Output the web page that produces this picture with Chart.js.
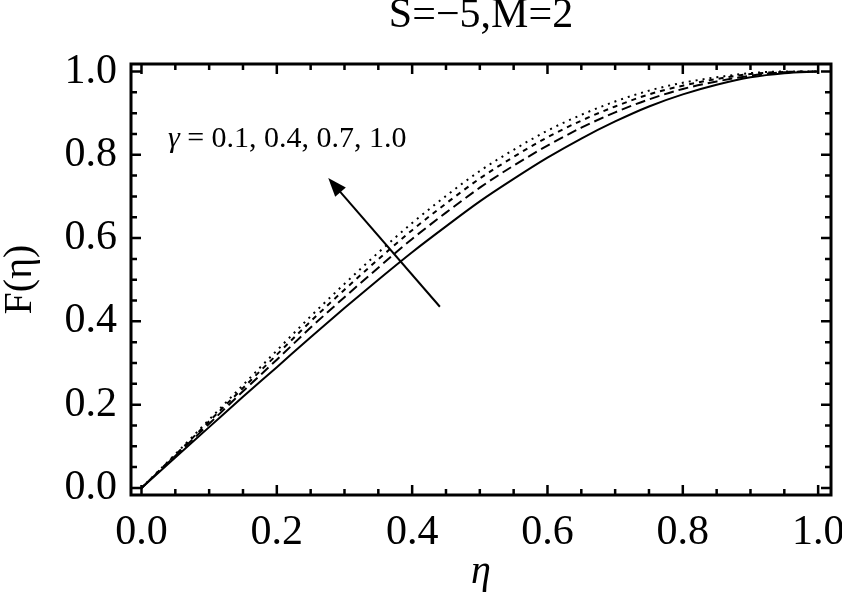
<!DOCTYPE html>
<html>
<head>
<meta charset="utf-8">
<script src="https://cdn.jsdelivr.net/npm/chart.js@4.4.1/dist/chart.umd.min.js"></script>
<style>
  html, body { margin: 0; padding: 0; background: #fff; }
  #wrap { width: 842px; height: 592px; }
</style>
</head>
<body>
<div id="wrap"><canvas id="chart"></canvas></div>
<script>
// eta grid and the four F(eta) curves
const eta    = [0, 0.05, 0.1, 0.15, 0.2, 0.25, 0.3, 0.35, 0.4, 0.45, 0.5, 0.55, 0.6, 0.65, 0.7, 0.75, 0.8, 0.85, 0.9, 0.95, 1.0];
const gamma01 = [0, 0.073, 0.146, 0.219, 0.290, 0.362, 0.432, 0.500, 0.566, 0.628, 0.688, 0.742, 0.793, 0.839, 0.880, 0.916, 0.945, 0.968, 0.986, 0.996, 1.0];
const gamma04 = [0, 0.077, 0.154, 0.232, 0.308, 0.385, 0.458, 0.529, 0.598, 0.661, 0.721, 0.774, 0.822, 0.865, 0.902, 0.933, 0.958, 0.976, 0.990, 0.998, 1.0];
const gamma07 = [0, 0.079, 0.160, 0.240, 0.320, 0.400, 0.476, 0.549, 0.619, 0.683, 0.743, 0.795, 0.842, 0.882, 0.916, 0.945, 0.966, 0.982, 0.994, 0.999, 1.0];
const gamma10 = [0, 0.081, 0.164, 0.247, 0.330, 0.412, 0.490, 0.565, 0.636, 0.701, 0.761, 0.812, 0.858, 0.896, 0.928, 0.954, 0.973, 0.986, 0.996, 1.0, 1.0];

const majorTicks = [0, 0.2, 0.4, 0.6, 0.8, 1.0];
const minorTicks = [0.05, 0.1, 0.15, 0.25, 0.3, 0.35, 0.45, 0.5, 0.55, 0.65, 0.7, 0.75, 0.85, 0.9, 0.95];

// annotation: label anchor and arrow (tail -> head) in data units
const labelSymbol = 'γ';
const labelText = ' = 0.1, 0.4, 0.7, 1.0';
const labelPos = [0.039, 0.819];
const arrowFrom = [0.441, 0.435];
const arrowTo = [0.276, 0.744];

const SERIF = '"Liberation Serif", "DejaVu Serif", serif';

function toPoints(ys) {
    return eta.map((x, i) => ({ x: x, y: ys[i] }));
}

function lineSet(label, ys, dash) {
    return {
        label: label,
        data: toPoints(ys),
        borderColor: '#000',
        borderWidth: 2,
        borderDash: dash,
        pointRadius: 0,
        fill: false,
        cubicInterpolationMode: 'monotone'
    };
}

/**
 * Frame with inward ticks on all four sides, plus arrow and gamma label
 */
const framePlugin = {
    id: 'frame',
    afterDatasetsDraw(chart) {
        const ctx = chart.ctx;
        const a = chart.chartArea;
        const xs = chart.scales.x;
        const ys = chart.scales.y;
        ctx.save();
        ctx.strokeStyle = '#000';
        ctx.lineWidth = 3;
        ctx.strokeRect(a.left, a.top, a.right - a.left, a.bottom - a.top);

        ctx.lineWidth = 2.5;
        const drawTicks = (vals, len) => {
            vals.forEach(v => {
                const px = xs.getPixelForValue(v);
                const py = ys.getPixelForValue(v);
                ctx.beginPath();
                ctx.moveTo(px, a.bottom); ctx.lineTo(px, a.bottom - len);
                ctx.moveTo(px, a.top); ctx.lineTo(px, a.top + len);
                ctx.moveTo(a.left, py); ctx.lineTo(a.left + len, py);
                ctx.moveTo(a.right, py); ctx.lineTo(a.right - len, py);
                ctx.stroke();
            });
        };
        drawTicks(majorTicks, 10);
        drawTicks(minorTicks, 6);

        // arrow
        const x0 = xs.getPixelForValue(arrowFrom[0]), y0 = ys.getPixelForValue(arrowFrom[1]);
        const x1 = xs.getPixelForValue(arrowTo[0]), y1 = ys.getPixelForValue(arrowTo[1]);
        const ang = Math.atan2(y1 - y0, x1 - x0);
        const head = 20, spread = 0.36;
        ctx.lineWidth = 2;
        ctx.beginPath();
        ctx.moveTo(x0, y0);
        ctx.lineTo(x1 - Math.cos(ang) * head * 0.8, y1 - Math.sin(ang) * head * 0.8);
        ctx.stroke();
        ctx.fillStyle = '#000';
        ctx.beginPath();
        ctx.moveTo(x1, y1);
        ctx.lineTo(x1 - head * Math.cos(ang - spread), y1 - head * Math.sin(ang - spread));
        ctx.lineTo(x1 - head * Math.cos(ang + spread), y1 - head * Math.sin(ang + spread));
        ctx.closePath();
        ctx.fill();

        // gamma label
        const lx = xs.getPixelForValue(labelPos[0]);
        const ly = ys.getPixelForValue(labelPos[1]);
        ctx.textBaseline = 'alphabetic';
        ctx.textAlign = 'left';
        ctx.font = 'italic 30px ' + SERIF;
        ctx.fillText(labelSymbol, lx, ly);
        const w = ctx.measureText(labelSymbol).width;
        ctx.font = '30px ' + SERIF;
        ctx.fillText(labelText, lx + w, ly);
        ctx.restore();
    }
};

const ctx = document.getElementById('chart');

new Chart(ctx, {
    type: 'line',
    data: {
        datasets: [
            lineSet('γ = 0.1', gamma01, []),
            lineSet('γ = 0.4', gamma04, [10, 5]),
            lineSet('γ = 0.7', gamma07, [5, 5]),
            lineSet('γ = 1.0', gamma10, [2, 5])
        ]
    },
    options: {
        responsive: true,
        maintainAspectRatio: false,
        animation: false,
        layout: { autoPadding: false, padding: { left: 0, right: 11, top: 0, bottom: 0 } },
        plugins: {
            legend: { display: false },
            tooltip: { enabled: false },
            title: {
                display: true,
                fullSize: false,
                text: 'S=−5,M=2',
                color: '#000',
                font: { family: SERIF, size: 42, weight: 'normal', lineHeight: 1 },
                padding: { top: -5, bottom: 27 }
            }
        },
        scales: {
            x: {
                type: 'linear',
                min: -0.0155,
                max: 1.019,
                grid: { display: false, drawTicks: false },
                border: { display: false },
                afterBuildTicks: scale => { scale.ticks = majorTicks.map(v => ({ value: v })); },
                afterFit: scale => {
                    scale.height = 97;
                    scale.paddingLeft = 0;
                    scale.paddingRight = 0;
                },
                ticks: {
                    color: '#000',
                    padding: 13,
                    maxRotation: 0,
                    font: { family: SERIF, size: 42 },
                    callback: v => v.toFixed(1)
                },
                title: {
                    display: true,
                    text: 'η',
                    color: '#000',
                    font: { family: SERIF, size: 40, style: 'italic', lineHeight: 1 },
                    padding: { top: 0, bottom: 0 }
                }
            },
            y: {
                type: 'linear',
                min: -0.017,
                max: 1.018,
                grid: { display: false, drawTicks: false },
                border: { display: false },
                afterBuildTicks: scale => { scale.ticks = majorTicks.map(v => ({ value: v })); },
                afterFit: scale => {
                    scale.width = 131;
                    scale.paddingTop = 0;
                    scale.paddingBottom = 0;
                },
                ticks: {
                    color: '#000',
                    padding: 14,
                    font: { family: SERIF, size: 42 },
                    callback: v => v.toFixed(1)
                },
                title: {
                    display: true,
                    text: 'F(η)',
                    color: '#000',
                    font: { family: SERIF, size: 40, lineHeight: 1 },
                    padding: { top: 0, bottom: 0 }
                }
            }
        }
    },
    plugins: [framePlugin]
});
</script>
</body>
</html>
